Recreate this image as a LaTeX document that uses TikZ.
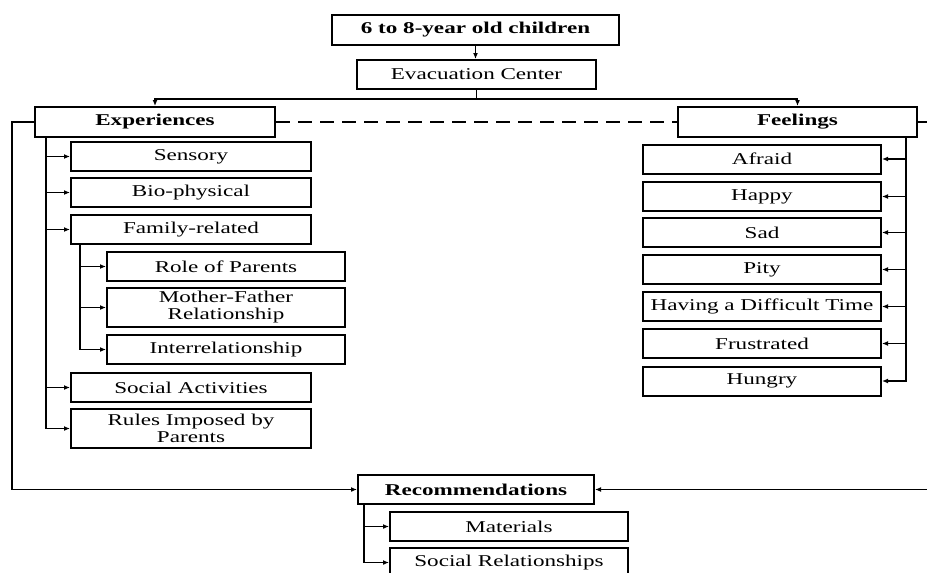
\documentclass[tikz,border=0pt]{standalone}
\usepackage{fontspec}
\setmainfont{Liberation Serif}[FakeStretch=1.4]
\usetikzlibrary{arrows.meta}

\begin{document}
\begin{tikzpicture}[x=1pt, y=-1pt,
    box/.style={draw, line width=2pt, minimum width=240pt, minimum height=29pt,
      inner sep=0pt, align=center, font=\fontsize{16.5}{17}\selectfont},
    headbox/.style={box, font=\fontsize{16.5}{17}\selectfont\bfseries},
    arr/.style={line width=1.6pt, -{Latex[length=6pt,width=5pt]}},
    link/.style={line width=1.6pt}]
  \useasboundingbox (0,0) rectangle (927,573);

  % top of the chart
  \node[headbox, minimum width=287pt, minimum height=30pt] (kids) at (475.5,30) {6 to 8-year old children};
  \node[box, minimum width=239pt] (evac) at (476.5,74.5) {Evacuation Center};
  \node[headbox, minimum height=30pt] (exper) at (155,122) {Experiences};
  \node[headbox, minimum width=239pt, minimum height=30pt] (feel) at (797.5,122) {Feelings};
  \node[headbox, minimum width=236pt] (rec) at (476,489.5) {Recommendations};

  % experiences
  \node[box] (sens) at (191,156.5) {Sensory};
  \node[box] (bio) at (191,192.5) {Bio-physical};
  \node[box] (fam) at (191,229.5) {Family-related};
  \node[box, minimum width=238pt] (role) at (226,266.5) {Role of Parents};
  \node[box, minimum width=238pt, minimum height=39pt] (mfr) at (226,307.5) {Mother-Father\\Relationship};
  \node[box, minimum width=238pt] (inter) at (226,349.5) {Interrelationship};
  \node[box] (soc) at (191,387.5) {Social Activities};
  \node[box, minimum height=39pt] (rules) at (191,428.5) {Rules Imposed by\\Parents};

  % feelings
  \node[box, minimum width=238pt] (afraid) at (762,159) {Afraid};
  \node[box, minimum width=238pt] (happy) at (762,196.5) {Happy};
  \node[box, minimum width=238pt] (sad) at (762,232.5) {Sad};
  \node[box, minimum width=238pt] (pity) at (762,269.5) {Pity};
  \node[box, minimum width=238pt] (hard) at (762,306.5) {Having a Difficult Time};
  \node[box, minimum width=238pt] (frus) at (762,343.5) {Frustrated};
  \node[box, minimum width=238pt] (hungry) at (762,381) {Hungry};

  % recommendations
  \node[box, minimum width=238pt] (mat) at (509,526.5) {Materials};
  \node[box, minimum width=238pt] (socrel) at (509,562.5) {Social Relationships};

  % connectors
  \draw[arr] (kids.south) -- (evac.north -| kids.south);
  \draw[arr] (evac.south) -- ++(0,9) -| (exper.north);
  \draw[arr] (evac.south) -- ++(0,9) -| (feel.north);
  \draw[link, dash pattern=on 14pt off 8pt] (exper.east) -- (feel.west);

  \foreach \n in {sens,bio,fam,soc,rules}
    \draw[arr] ([xshift=12pt]exper.south west) |- (\n.west);
  \foreach \n in {role,mfr,inter}
    \draw[arr] ([xshift=10pt]fam.south west) |- (\n.west);
  \foreach \n in {afraid,happy,sad,pity,hard,frus,hungry}
    \draw[arr] ([xshift=-12pt]feel.south east) |- (\n.east);
  \foreach \n in {mat,socrel}
    \draw[arr] ([xshift=7pt]rec.south west) |- (\n.west);

  \draw[arr] (exper.west) -- ++(-22,0) |- (rec.west);
  \draw[arr] (feel.east) -- ++(25,0) |- (rec.east);
\end{tikzpicture}
\end{document}
